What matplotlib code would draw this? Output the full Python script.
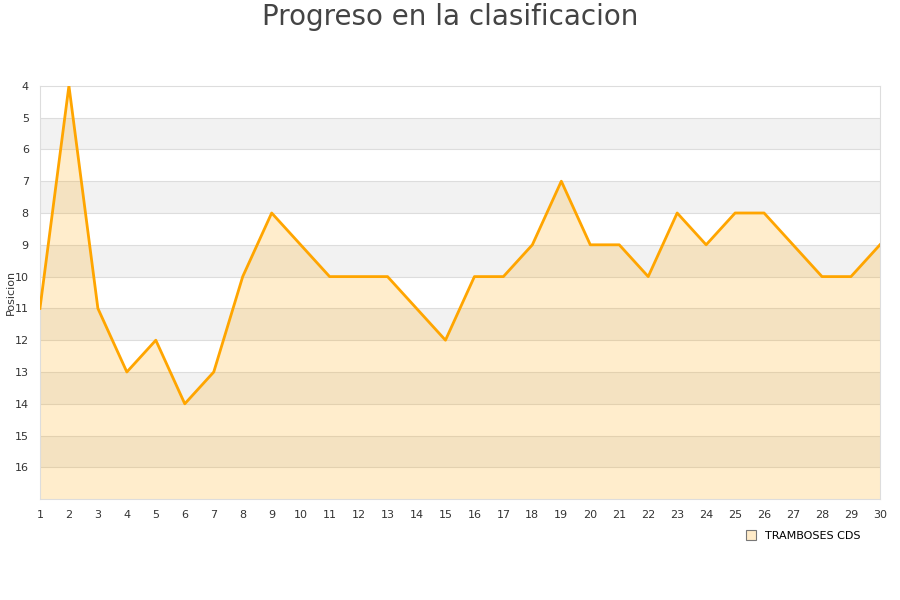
import matplotlib
matplotlib.use("Agg")
import matplotlib.pyplot as plt
import numpy as np

jornadas = list(range(1, 31))
posiciones = [11, 4, 11, 13, 12, 14, 13, 10, 8, 9, 10, 10, 10, 11, 12,
              10, 10, 9, 7, 9, 9, 10, 8, 9, 8, 8, 9, 10, 10, 9]
equipo = "TRAMBOSES CDS"
y_ticks = list(range(4, 17))

fig = plt.figure(figsize=(9, 6), dpi=100)
ax = fig.add_axes([0.0444, 0.168, 0.9333, 0.689])

# bandas alternas
for k in range(4, 17):
    if k % 2 == 1:
        ax.axhspan(k, k + 1, color="#f2f2f2", zorder=0, lw=0)
for k in range(5, 17):
    ax.axhline(k, color="#dddddd", lw=0.8, zorder=1)

ax.fill_between(jornadas, posiciones, 17, color="#ffa500", alpha=0.2, lw=0, zorder=2)
ax.plot(jornadas, posiciones, color="#ffa500", lw=2, zorder=3)

ax.set_xlim(1, 30)
ax.set_ylim(17, 4)
ax.set_xticks(jornadas)
ax.set_yticks(y_ticks)
ax.tick_params(length=0, labelsize=8, colors="#333333", pad=8)
for s in ax.spines.values():
    s.set_color("#dddddd")
ax.set_ylabel("Posicion", fontsize=8, color="#333333", labelpad=-1)

fig.suptitle("Progreso en la clasificacion", fontsize=20, color="#444444", y=0.995)

fig.legend(handles=[plt.Line2D([], [], marker="s", ls="", markersize=7,
                               markerfacecolor="#ffebc8", markeredgecolor="#777777",
                               markeredgewidth=0.8)],
           labels=[equipo], loc="center", bbox_to_anchor=(0.889, 0.107),
           frameon=False, fontsize=8, handletextpad=0.3)

fig.savefig("out.png")
